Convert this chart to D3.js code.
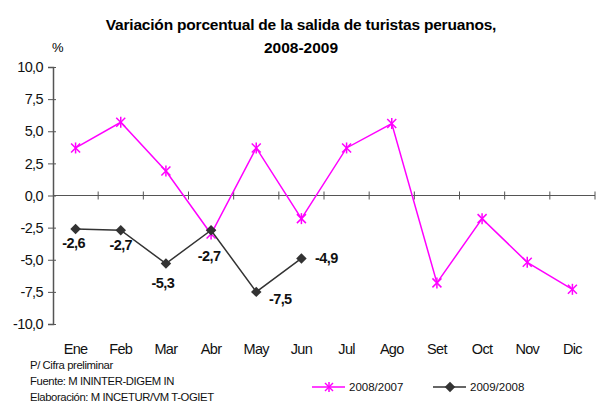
<!DOCTYPE html>
<html>
<head>
<meta charset="utf-8">
<script src="https://cdn.jsdelivr.net/npm/d3@7"></script>
<style>
  body { margin: 0; background: #fff; }
  svg { display: block; font-family: "Liberation Sans", Arial, sans-serif; }
</style>
</head>
<body>
<svg id="chart" width="596" height="403"></svg>
<script>
// datos del grafico
var meses = ["Ene", "Feb", "Mar", "Abr", "May", "Jun", "Jul", "Ago", "Set", "Oct", "Nov", "Dic"];
var serie2008 = [3.7, 5.7, 1.9, -3.0, 3.7, -1.8, 3.7, 5.6, -6.8, -1.8, -5.2, -7.3];
var serie2009 = [-2.6, -2.7, -5.3, -2.7, -7.5, -4.9];
var etiquetas2009 = ["-2,6", "-2,7", "-5,3", "-2,7", "-7,5", "-4,9"];
var ticksY = [10, 7.5, 5, 2.5, 0, -2.5, -5, -7.5, -10];
var nombresSeries = ["2008/2007", "2009/2008"];

var svg = d3.select("#chart");
var fmt = function(d) { return d3.format(".1f")(d).replace(".", ",").replace("−", "-"); };

var x = d3.scaleBand().domain(meses).range([53, 595]);
var y = d3.scaleLinear().domain([-10, 10]).range([324, 67]);

// titulo
svg.append("text").attr("x", 301).attr("y", 30).attr("text-anchor", "middle")
  .style("font-size", "15.5px").style("font-weight", "bold").style("letter-spacing", "-0.2px")
  .text("Variación porcentual de la salida de turistas peruanos,");
svg.append("text").attr("x", 301).attr("y", 53).attr("text-anchor", "middle")
  .style("font-size", "15.5px").style("font-weight", "bold")
  .text("2008-2009");
svg.append("text").attr("x", 52).attr("y", 52)
  .style("font-size", "13px").text("%");

// eje Y
var ejeY = svg.append("g").attr("transform", "translate(53,0)")
  .call(d3.axisLeft(y).tickValues(ticksY).tickFormat(fmt).tickSize(5).tickPadding(5));
ejeY.select(".domain").attr("stroke", "#555").attr("stroke-width", 1.5);
ejeY.selectAll(".tick line").attr("stroke", "#555").attr("x2", -5).attr("x1", 3);
ejeY.selectAll(".tick text").style("font-size", "14.5px").attr("fill", "#111").style("letter-spacing", "-0.6px");

// eje X en cero
var ejeX = svg.append("g").attr("transform", "translate(0," + y(0) + ")");
ejeX.append("line").attr("x1", 53).attr("x2", 595).attr("stroke", "#555").attr("stroke-width", 1.2);
var bordes = meses.map(function(m) { return x(m) + x.bandwidth(); });
ejeX.selectAll(".t").data(bordes).enter().append("line")
  .attr("x1", function(d) { return d; }).attr("x2", function(d) { return d; })
  .attr("y1", -4).attr("y2", 4).attr("stroke", "#555");

// etiquetas de meses
svg.selectAll(".mes").data(meses).enter().append("text")
  .attr("x", function(d) { return x(d) + x.bandwidth() / 2; })
  .attr("y", 354).attr("text-anchor", "middle")
  .style("font-size", "14.5px").style("letter-spacing", "-0.7px").attr("fill", "#111")
  .text(function(d) { return d; });

var cx = function(d, i) { return x(meses[i]) + x.bandwidth() / 2; };
var linea = d3.line().x(function(d, i) { return cx(d, i); }).y(function(d) { return y(d); });

// serie 2008/2007
svg.append("path").datum(serie2008).attr("d", linea)
  .attr("fill", "none").attr("stroke", "#ff00ff").attr("stroke-width", 1.5);
function estrella(g, s) {
  g.append("line").attr("x1", -s).attr("x2", s).attr("y1", -s).attr("y2", s);
  g.append("line").attr("x1", -s).attr("x2", s).attr("y1", s).attr("y2", -s);
  g.append("line").attr("x1", 0).attr("x2", 0).attr("y1", -s - 1).attr("y2", s + 1);
}
svg.selectAll(".est").data(serie2008).enter().append("g")
  .attr("transform", function(d, i) { return "translate(" + cx(d, i) + "," + y(d) + ")"; })
  .attr("stroke", "#ff00ff").attr("stroke-width", 1.5)
  .each(function() { estrella(d3.select(this), 4.5); });

// serie 2009/2008
svg.append("path").datum(serie2009).attr("d", linea)
  .attr("fill", "none").attr("stroke", "#333").attr("stroke-width", 1.5);
var diamante = d3.symbol().type(d3.symbolDiamond2).size(70);
svg.selectAll(".dia").data(serie2009).enter().append("path")
  .attr("d", diamante)
  .attr("transform", function(d, i) { return "translate(" + cx(d, i) + "," + y(d) + ")"; })
  .attr("fill", "#333");

// etiquetas de datos
var desp = [[-2, 19], [0, 20], [-3, 24], [-2, 31], [24, 12], [25, 5]];
svg.selectAll(".etq").data(serie2009).enter().append("text")
  .attr("x", function(d, i) { return cx(d, i) + desp[i][0]; })
  .attr("y", function(d, i) { return y(d) + desp[i][1]; })
  .attr("text-anchor", "middle")
  .style("font-size", "14.5px").style("font-weight", "bold").style("letter-spacing", "-0.6px")
  .attr("fill", "#111")
  .text(function(d, i) { return etiquetas2009[i]; });

// notas
var notas = ["P/ Cifra preliminar", "Fuente: M ININTER-DIGEM IN", "Elaboración: M INCETUR/VM T-OGIET"];
svg.selectAll(".nota").data(notas).enter().append("text")
  .attr("x", 30).attr("y", function(d, i) { return 369 + i * 16; })
  .style("font-size", "11.3px").style("letter-spacing", "-0.4px").attr("fill", "#111")
  .text(function(d) { return d; });

// leyenda
var ley = svg.append("g").attr("transform", "translate(0,387)");
ley.append("line").attr("x1", 312).attr("x2", 345).attr("stroke", "#ff00ff").attr("stroke-width", 1.5);
estrella(ley.append("g").attr("transform", "translate(329,0)").attr("stroke", "#ff00ff").attr("stroke-width", 1.5), 4);
ley.append("text").attr("x", 349).attr("y", 4).style("font-size", "11.5px").attr("fill", "#111").text(nombresSeries[0]);
ley.append("line").attr("x1", 433).attr("x2", 466).attr("stroke", "#333").attr("stroke-width", 1.5);
ley.append("path").attr("d", diamante).attr("transform", "translate(450,0)").attr("fill", "#333");
ley.append("text").attr("x", 470).attr("y", 4).style("font-size", "11.5px").attr("fill", "#111").text(nombresSeries[1]);
</script>
</body>
</html>
